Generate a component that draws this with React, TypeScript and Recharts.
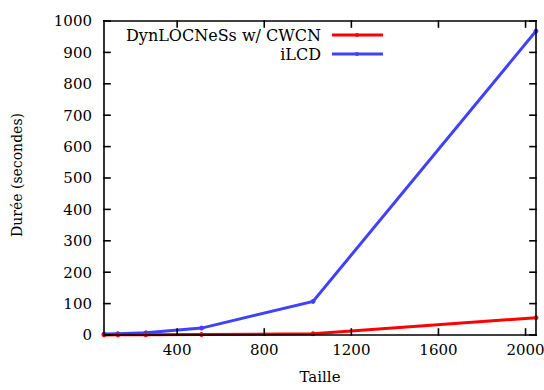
import { LineChart, Line, XAxis, YAxis } from 'recharts';

const sizes = [64, 128, 256, 512, 1024, 2048];
const dynlocnessTimes = [0.3, 0.5, 0.8, 1.5, 4, 55];
const ilcdTimes = [3, 4, 7, 22, 107, 968];
const xTicks = [400, 800, 1200, 1600, 2000];
const yTicks = [0, 100, 200, 300, 400, 500, 600, 700, 800, 900, 1000];

const data = sizes.map((s, i) => ({ taille: s, dyn: dynlocnessTimes[i], ilcd: ilcdTimes[i] }));

const font = 'DejaVu Serif';
const RED = '#ff0000';
const BLUE = '#4040ff';
const X_MIN = 64, X_MAX = 2048, Y_MIN = 0, Y_MAX = 1000;
// plot box, matches the chart margins and axis sizes below
const LEFT = 104, TOP = 21, W = 432, H = 314, TICK = 6;
const tickStyle = { fill: '#000', fontSize: 15, fontFamily: font };

const legendRows = [
    { name: 'DynLOCNeSs w/ CWCN', color: RED },
    { name: 'iLCD', color: BLUE },
];

const px = (v: number) => LEFT + ((v - X_MIN) / (X_MAX - X_MIN)) * W;
const py = (v: number) => TOP + H - ((v - Y_MIN) / (Y_MAX - Y_MIN)) * H;

function Seg({ x1, x2, y1, y2 }: { x1: number; x2: number; y1: number; y2: number }) {
    return <line x1={x1} x2={x2} y1={y1} y2={y2} stroke="#000" strokeWidth={1.6} strokeLinecap="square" />;
}

// gnuplot-style border with inward ticks on all sides, plus the key
function Frame() {
    return (
        <svg width={544} height={390} style={{ position: 'absolute', left: 0, top: 0, pointerEvents: 'none' }}>
            <Seg x1={LEFT} x2={LEFT + W} y1={TOP} y2={TOP} />
            <Seg x1={LEFT} x2={LEFT + W} y1={TOP + H} y2={TOP + H} />
            <Seg x1={LEFT} x2={LEFT} y1={TOP} y2={TOP + H} />
            <Seg x1={LEFT + W} x2={LEFT + W} y1={TOP} y2={TOP + H} />
            {yTicks.map((v) => (
                <g key={`y${v}`}>
                    <Seg x1={LEFT} x2={LEFT + TICK} y1={py(v)} y2={py(v)} />
                    <Seg x1={LEFT + W - TICK} x2={LEFT + W} y1={py(v)} y2={py(v)} />
                </g>
            ))}
            {xTicks.map((v) => (
                <g key={`x${v}`}>
                    <Seg x1={px(v)} x2={px(v)} y1={TOP + H} y2={TOP + H - TICK} />
                    <Seg x1={px(v)} x2={px(v)} y1={TOP} y2={TOP + TICK} />
                </g>
            ))}
            {legendRows.map((r, i) => (
                <g key={r.name} transform={`translate(0, ${35 + i * 19})`}>
                    <text x={321} y={6} textAnchor="end" fontSize={16} fill="#000" fontFamily={font}>{r.name}</text>
                    <line x1={332} x2={383} y1={0} y2={0} stroke={r.color} strokeWidth={3} />
                    <circle cx={357} cy={0} r={2} fill={r.color} />
                </g>
            ))}
        </svg>
    );
}

export default function App() {
    return (
        <div style={{ width: 544, height: 390, position: 'relative' }}>
            <style>{'body{margin:0}'}</style>
            <LineChart width={544} height={390} data={data} margin={{ top: TOP, right: 544 - LEFT - W, bottom: 0, left: 0 }}>
                <XAxis dataKey="taille" type="number" domain={[X_MIN, X_MAX]} ticks={xTicks}
                    height={390 - TOP - H} tickSize={-5} tickMargin={14} axisLine={false} tickLine={false}
                    tick={tickStyle}
                    label={{ content: (p: any) => (
                        <text x={p.viewBox.x + p.viewBox.width / 2} y={382} textAnchor="middle" fontSize={15} fill="#000" fontFamily={font}>Taille</text>
                    ) }} />
                <YAxis type="number" domain={[Y_MIN, Y_MAX]} ticks={yTicks} width={LEFT}
                    tickSize={-5} tickMargin={17} axisLine={false} tickLine={false}
                    tick={tickStyle}
                    label={{ content: (p: any) => {
                        const cy = p.viewBox.y + p.viewBox.height / 2 - 3;
                        return (
                            <text x={22} y={cy} transform={`rotate(-90, 22, ${cy})`}
                                textAnchor="middle" fontSize={14} fill="#000" fontFamily={font}>Durée (secondes)</text>
                        );
                    } }} />
                <Line type="linear" dataKey="ilcd" stroke={BLUE} strokeWidth={3}
                    dot={{ r: 2, fill: BLUE, stroke: BLUE, strokeWidth: 1 }} isAnimationActive={false} />
                <Line type="linear" dataKey="dyn" stroke={RED} strokeWidth={3}
                    dot={{ r: 2, fill: RED, stroke: RED, strokeWidth: 1 }} isAnimationActive={false} />
            </LineChart>
            <Frame />
        </div>
    );
}
